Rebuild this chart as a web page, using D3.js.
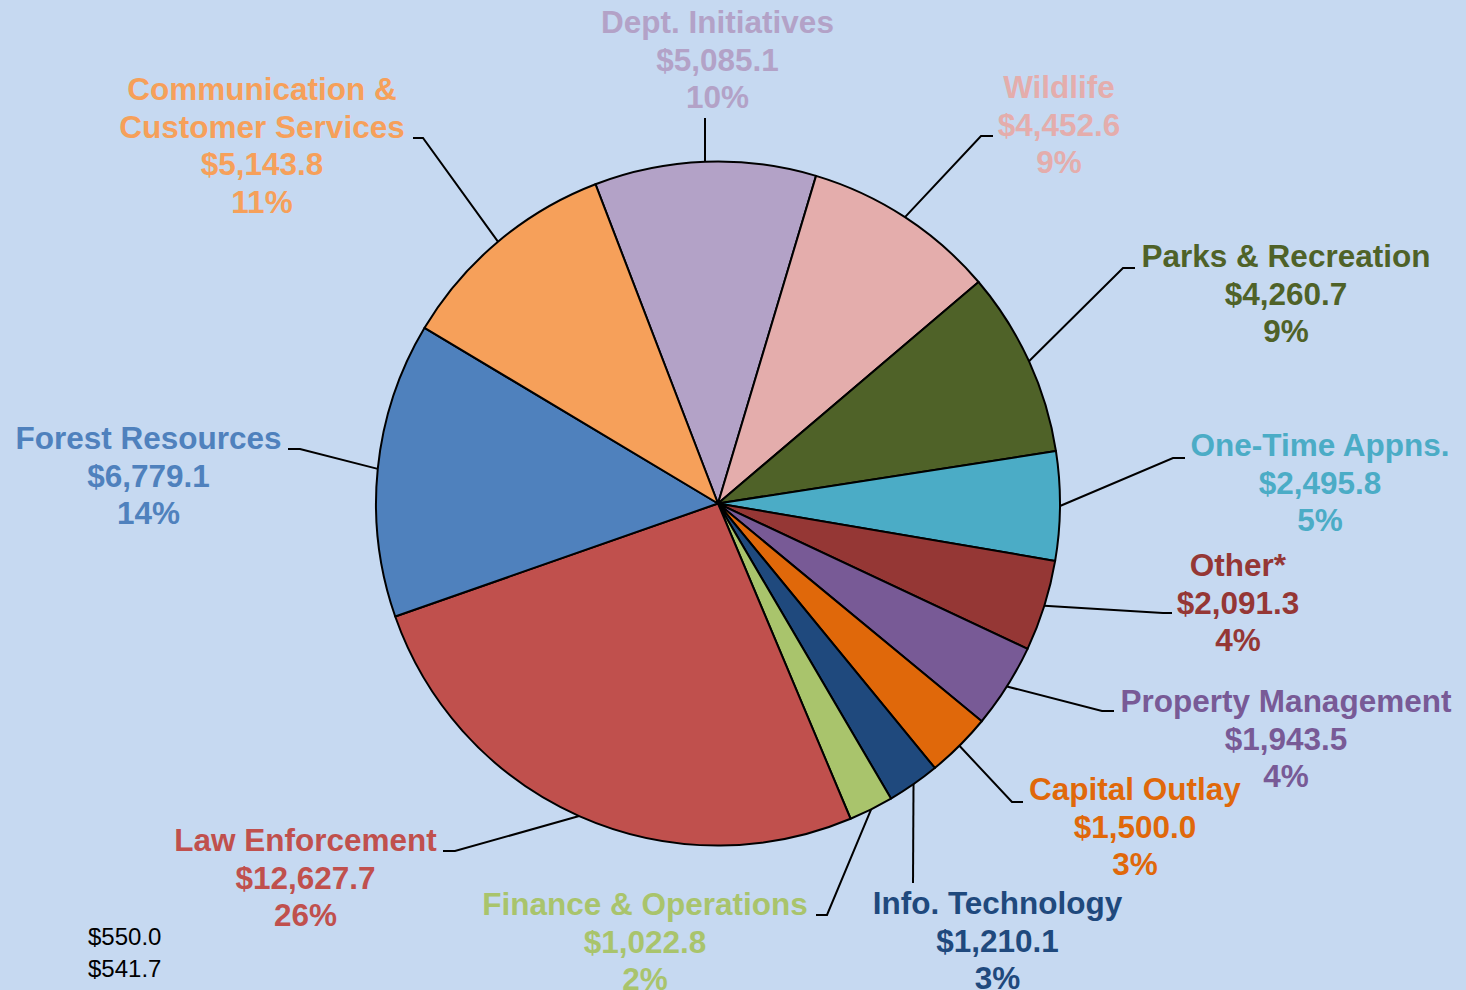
<!DOCTYPE html>
<html>
<head>
<meta charset="utf-8">
<script src="https://cdn.jsdelivr.net/npm/d3@7"></script>
<style>
  html, body { margin: 0; padding: 0; background: #c6d9f1; }
  svg { display: block; }
  .lbl { font-family: "Liberation Sans", Arial, sans-serif; font-weight: bold; font-size: 31.5px; }
  .extra { font-family: "Liberation Sans", Arial, sans-serif; font-size: 24px; fill: #000; }
</style>
</head>
<body>
<svg id="chart" width="1466" height="990"></svg>
<script>
// slice order, clockwise from the top
var categories = ['Dept. Initiatives', 'Wildlife', 'Parks & Recreation', 'One-Time Appns.', 'Other*',
  'Property Management', 'Capital Outlay', 'Info. Technology', 'Finance & Operations',
  'Law Enforcement', 'Forest Resources', 'Communication & Customer Services'];
var values = [5085.1, 4452.6, 4260.7, 2495.8, 2091.3, 1943.5, 1500.0, 1210.1, 1022.8, 12627.7, 6779.1, 5143.8];
var pcts = [10, 9, 9, 5, 4, 4, 3, 3, 2, 26, 14, 11];
var colors = ['#b3a2c7', '#e4adac', '#4f6228', '#4bacc6', '#953735', '#785a96',
  '#e0680a', '#1f497d', '#a9c46c', '#c0504d', '#4f81bd', '#f6a05a'];
// stray value labels bottom-left
var extraValues = [550.0, 541.7];

// label anchors (center x, first baseline) and leader elbows
var labelLayout = [
  {x: 717.5, y: 33,  elbow: [705, 118],  end: null},
  {x: 1059,  y: 98,  elbow: [981, 136],  end: 993},
  {x: 1286,  y: 267, elbow: [1123, 268], end: 1135},
  {x: 1320,  y: 456, elbow: [1173, 458], end: 1185},
  {x: 1238,  y: 576, elbow: [1163, 613], end: 1172},
  {x: 1286,  y: 712, elbow: [1102, 711], end: 1114},
  {x: 1135,  y: 800, elbow: [1012, 802], end: 1023},
  {x: 997.5, y: 914, elbow: [913, 883],  end: null},
  {x: 645,   y: 915, elbow: [827, 915],  end: 816},
  {x: 305.5, y: 851, elbow: [455, 851],  end: 443},
  {x: 148.5, y: 449, elbow: [300, 449],  end: 288},
  {x: 262,   y: 100, elbow: [423, 138],  end: 413}
];
var nameLines = {'Communication & Customer Services': ['Communication &', 'Customer Services']};

var cx = 718, cy = 503.5, radius = 342;
var startAngle = -21 * Math.PI / 180;
var lineHeight = 37.5;
var fmt = d3.format('$,.1f');

var svg = d3.select('#chart');
svg.append('rect').attr('width', 1466).attr('height', 990).attr('fill', '#c6d9f1');

var data = categories.map(function(c, i) {
  return {name: c, value: values[i], pct: pcts[i], color: colors[i], layout: labelLayout[i]};
});

var pie = d3.pie().sort(null).value(function(d) { return d.value; })
  .startAngle(startAngle).endAngle(startAngle + 2 * Math.PI);
var arcs = pie(data);

var arc = d3.arc().innerRadius(0).outerRadius(radius);
var edgeArc = d3.arc().innerRadius(radius).outerRadius(radius);

var g = svg.append('g').attr('transform', 'translate(' + cx + ',' + cy + ')');

// leader lines (drawn under slices so they stop at the rim)
var leaders = svg.append('g');
arcs.forEach(function(a) {
  var p = edgeArc.centroid(a);
  var pts = [[cx + p[0], cy + p[1]], a.data.layout.elbow];
  if (a.data.layout.end != null) pts.push([a.data.layout.end, a.data.layout.elbow[1]]);
  leaders.append('path')
    .attr('d', d3.line()(pts))
    .attr('fill', 'none')
    .attr('stroke', '#000')
    .attr('stroke-width', 2);
});

g.selectAll('path.slice')
  .data(arcs)
  .enter().append('path')
  .attr('class', 'slice')
  .attr('d', arc)
  .attr('fill', function(d) { return d.data.color; })
  .attr('stroke', '#000')
  .attr('stroke-width', 2)
  .attr('stroke-linejoin', 'round');

// labels
arcs.forEach(function(a) {
  var d = a.data;
  var lines = (nameLines[d.name] || [d.name]).concat([fmt(d.value), d.pct + '%']);
  var t = svg.append('text')
    .attr('class', 'lbl')
    .attr('text-anchor', 'middle')
    .attr('fill', d.color);
  lines.forEach(function(l, i) {
    t.append('tspan').attr('x', d.layout.x).attr('y', d.layout.y + i * lineHeight).text(l);
  });
});

svg.selectAll('text.extra')
  .data(extraValues)
  .enter().append('text')
  .attr('class', 'extra')
  .attr('x', 88)
  .attr('y', function(d, i) { return 945 + i * 32; })
  .text(function(d) { return fmt(d); });
</script>
</body>
</html>
